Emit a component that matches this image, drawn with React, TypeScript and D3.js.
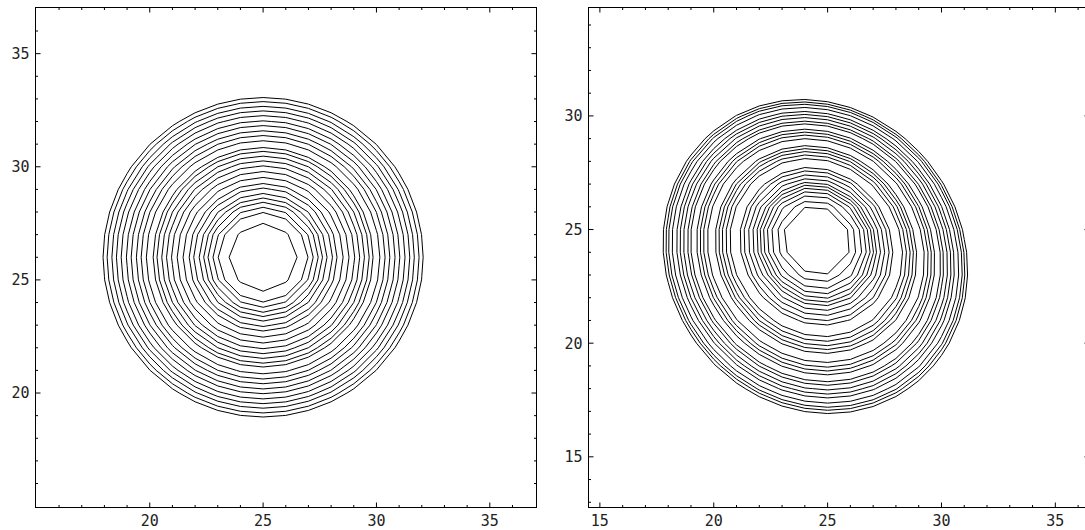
import React, { useRef, useEffect } from 'react';
import * as d3 from 'd3';

// contour radii, outermost first
const leftLevels = [7.06, 6.88, 6.67, 6.47, 6.26, 6.03, 5.82, 5.59, 5.38, 5.15, 4.85, 4.68, 4.47, 4.26, 4.04, 3.79, 3.53, 3.26, 3.06, 2.82, 2.62, 2.43, 2.21, 1.98, 1.5];
const rightLevels = [6.47, 6.35, 6.24, 6.09, 5.9, 5.76, 5.61, 5.44, 5.31, 5.06, 4.92, 4.78, 4.61, 4.28, 4.14, 4.0, 3.84, 3.67, 3.25, 3.09, 2.9, 2.72, 2.55, 2.42, 2.28, 2.12, 1.93, 1.68, 1.42];

// centre of the rings and drift of the centre per unit radius
const leftCenter = [25, 26];
const leftDrift = [0, 0];
const rightCenter = [24.55, 24.72];
const rightDrift = [-0.014, -0.14];

// tick labels
const leftXLabels = [20, 25, 30, 35];
const leftYLabels = [20, 25, 30, 35];
const rightXLabels = [15, 20, 25, 30, 35];
const rightYLabels = [15, 20, 25, 30];

const panels = [
  {
    levels: leftLevels, center: leftCenter, drift: leftDrift, tilt: 0, stretch: 1,
    xDomain: [14.96, 37.06], yDomain: [14.94, 37.04],
    left: 35.5, right: 536.5, top: 7.5, bottom: 507.5,
    xLabels: leftXLabels, yLabels: leftYLabels,
  },
  {
    levels: rightLevels, center: rightCenter, drift: rightDrift, tilt: 35, stretch: 1.1,
    xDomain: [14.5, 36.5], yDomain: [12.77, 34.77],
    left: 588.5, right: 1089.5, top: 7.5, bottom: 507.5,
    xLabels: rightXLabels, yLabels: rightYLabels,
  },
];

// radius of the ring that goes through (px, py)
function ringRadius(px: number, py: number, p: any) {
  const t = (p.tilt * Math.PI) / 180;
  const m = (vx: number, vy: number) => [
    vx * Math.cos(t) + vy * Math.sin(t),
    (-vx * Math.sin(t) + vy * Math.cos(t)) / p.stretch,
  ];
  const [qx, qy] = m(px - p.center[0], py - p.center[1]);
  const [kx, ky] = m(p.drift[0], p.drift[1]);
  const kk = kx * kx + ky * ky;
  const qk = qx * kx + qy * ky;
  const qq = qx * qx + qy * qy;
  return (-qk + Math.sqrt(qk * qk + qq * (1 - kk))) / (1 - kk);
}

function drawPanel(g: any, p: any) {
  const x = d3.scaleLinear().domain(p.xDomain).range([p.left, p.right]);
  const y = d3.scaleLinear().domain(p.yDomain).range([p.bottom, p.top]);

  // sampling grid, one unit apart
  const gx = d3.range(Math.floor(p.xDomain[0]) - 1, Math.ceil(p.xDomain[1]) + 2);
  const gy = d3.range(Math.floor(p.yDomain[0]) - 1, Math.ceil(p.yDomain[1]) + 2);
  const values: number[] = [];
  gy.forEach(yy => gx.forEach(xx => values.push(-ringRadius(xx, yy, p))));

  const contours = d3
    .contours()
    .size([gx.length, gy.length])
    .thresholds(p.levels.map((l: number) => -l))(values);

  const toPx = ([cx, cy]: number[]) => [x(gx[0] + cx - 0.5), y(gy[0] + cy - 0.5)];

  g.selectAll('.contour')
    .data(contours)
    .join('path')
    .attr('class', 'contour')
    .attr('d', (c: any) =>
      c.coordinates
        .map((poly: any) =>
          poly.map((ring: any) => 'M' + ring.map(toPx).map((q: number[]) => q.join(',')).join('L') + 'Z').join(''),
        )
        .join(''),
    )
    .attr('fill', 'none')
    .attr('stroke', '#000')
    .attr('stroke-width', 1);

  // frame
  g.append('rect')
    .attr('x', p.left)
    .attr('y', p.top)
    .attr('width', p.right - p.left)
    .attr('height', p.bottom - p.top)
    .attr('fill', 'none')
    .attr('stroke', '#000')
    .attr('stroke-width', 1);

  const len = (v: number) => (v % 5 === 0 ? 5 : 2.5);
  const xt = d3.range(Math.ceil(p.xDomain[0]), Math.floor(p.xDomain[1]) + 1).filter(v => v - p.xDomain[0] > 0.2 && p.xDomain[1] - v > 0.2);
  const yt = d3.range(Math.ceil(p.yDomain[0]), Math.floor(p.yDomain[1]) + 1).filter(v => v - p.yDomain[0] > 0.2 && p.yDomain[1] - v > 0.2);

  const ticks = g.append('g').attr('stroke', '#000').attr('stroke-width', 1);
  xt.forEach(v => {
    ticks.append('line').attr('x1', x(v)).attr('x2', x(v)).attr('y1', p.bottom).attr('y2', p.bottom - len(v));
    ticks.append('line').attr('x1', x(v)).attr('x2', x(v)).attr('y1', p.top).attr('y2', p.top + len(v));
  });
  yt.forEach(v => {
    ticks.append('line').attr('y1', y(v)).attr('y2', y(v)).attr('x1', p.left).attr('x2', p.left + len(v));
    ticks.append('line').attr('y1', y(v)).attr('y2', y(v)).attr('x1', p.right).attr('x2', p.right - len(v));
  });

  const labels = g.append('g').attr('font-family', '"DejaVu Sans Mono", monospace').attr('font-size', 15).attr('fill', '#222');
  p.xLabels.forEach((v: number) => {
    labels.append('text').attr('x', x(v)).attr('y', p.bottom + 18.5).attr('text-anchor', 'middle').text(v);
  });
  p.yLabels.forEach((v: number) => {
    labels.append('text').attr('x', p.left - 6).attr('y', y(v)).attr('dy', '0.36em').attr('text-anchor', 'end').text(v);
  });
}

export default function App() {
  const svgRef = useRef<SVGSVGElement>(null);

  useEffect(() => {
    const svg = d3.select(svgRef.current);
    svg.selectAll('*').remove();
    panels.forEach(p => drawPanel(svg.append('g'), p));
  }, []);

  return (
    <svg
      ref={svgRef}
      width={1085}
      height={530}
      style={{ position: 'absolute', left: 0, top: 0, background: '#fff' }}
    />
  );
}
